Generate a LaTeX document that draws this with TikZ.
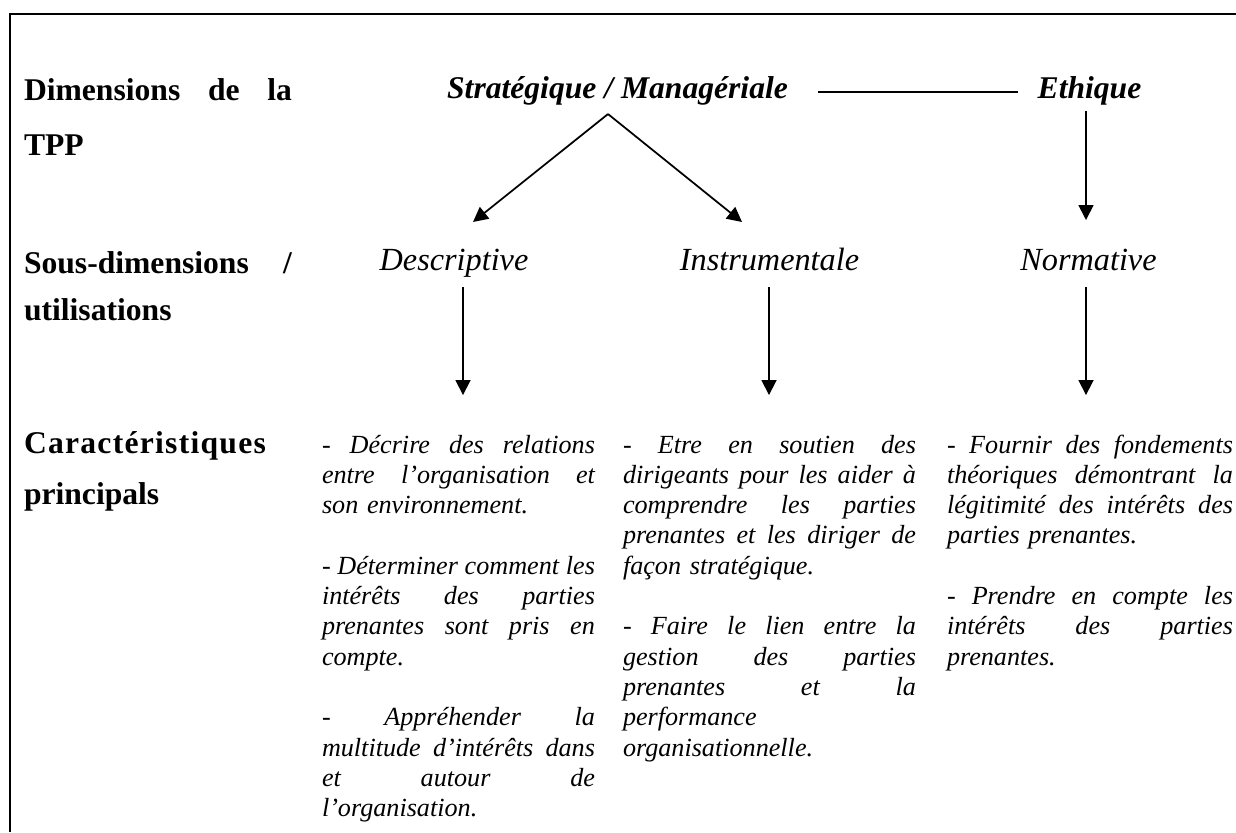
\documentclass[tikz,border=0pt]{standalone}
\usepackage{fontspec}
\setmainfont{Liberation Serif}
\usetikzlibrary{arrows.meta}
\newlength{\wA}\setlength{\wA}{125.2pt}
\newlength{\wB}\setlength{\wB}{134.4pt}
\newlength{\wC}\setlength{\wC}{131.2pt}
\newlength{\wL}\setlength{\wL}{122.9pt}
\newcommand{\jl}[2]{\makebox[#1][s]{\spaceskip=0pt\xspaceskip=0pt\relax #2}}
\begin{document}
\begin{tikzpicture}[x=0.4587pt,y=-0.4587pt,
  every node/.style={inner sep=0pt, outer sep=0pt},
  lab/.style={anchor=base west, font=\fontsize{14.5}{16}\selectfont\bfseries},
  head/.style={anchor=base, text height=10.5pt, text depth=3.5pt, font=\fontsize{14.5}{16}\selectfont\bfseries\itshape},
  sub/.style={anchor=base, text height=10.5pt, text depth=3pt, font=\fontsize{14.8}{16}\selectfont\itshape},
  col/.style={anchor=base west, align=left, font=\fontsize{12}{13.9}\selectfont\itshape},
  arr/.style={line width=0.8pt, -{Triangle[length=6.8pt,width=6.8pt]}},
  conn/.style={line width=0.8pt},
  frameline/.style={line width=0.9pt}]
\useasboundingbox (0,0) rectangle (1236,832);
% frame
\coordinate (ftl) at (10,14);
\coordinate (ftr) at (1236,14);
\coordinate (fbl) at (10,832);
\draw[frameline] (ftr) -- (ftl) -- (fbl);
% row labels
\node[lab] (l1a) at (24,100) {\jl{\wL}{Dimensions de la}};
\node[lab] (l1b) at (24,155) {TPP};
\node[lab] (l2a) at (24,273) {\jl{\wL}{Sous-dimensions /}};
\node[lab] (l2b) at (24,320) {utilisations};
\node[lab] (l3a) at (24,453) {\addfontfeatures{LetterSpace=4}Caractéristiques};
\node[lab] (l3b) at (24,504) {principals};
% dimensions
\node[head] (strat) at (617.5,98) {Stratégique / Managériale};
\node[head] (eth) at (1089.5,98) {Ethique};
\coordinate (ly) at (0,92);
\draw[conn, shorten <=13.8pt, shorten >=9.2pt] (strat.east |- ly) -- (eth.west |- ly);
% sub-dimensions
\node[sub] (desc) at (454,270) {Descriptive};
\node[sub] (instr) at (769.5,270) {Instrumentale};
\node[sub] (norm) at (1088.5,270) {Normative};
\draw[arr] ([shift={(-9.5,8.4)}]strat.south) -- ([shift={(19,-25.1)}]desc.north);
\draw[arr] ([shift={(-9.5,8.4)}]strat.south) -- ([shift={(-27.5,-25.1)}]instr.north);
\draw[arr] ([shift={(-3.5,5.4)}]eth.south) -- ([shift={(-2.5,-27.1)}]norm.north);
% characteristics
\node[col, text width=\wA] (c1) at (322,453) {%
\jl{\wA}{- Décrire des relations}\\
\jl{\wA}{entre l’organisation et}\\
son environnement.\\[13.9pt]
\jl{\wA}{- Déterminer comment les}\\
\jl{\wA}{intérêts des parties}\\
\jl{\wA}{prenantes sont pris en}\\
compte.\\[13.9pt]
\jl{\wA}{- Appréhender la}\\
\jl{\wA}{multitude d’intérêts dans}\\
\jl{\wA}{et autour de}\\
l’organisation.};
\node[col, text width=\wB] (c2) at (623,453) {%
\jl{\wB}{- Etre en soutien des}\\
\jl{\wB}{dirigeants pour les aider à}\\
\jl{\wB}{comprendre les parties}\\
\jl{\wB}{prenantes et les diriger de}\\
façon stratégique.\\[13.9pt]
\jl{\wB}{- Faire le lien entre la}\\
\jl{\wB}{gestion des parties}\\
\jl{\wB}{prenantes et la}\\
performance\\
organisationnelle.};
\node[col, text width=\wC] (c3) at (947,453) {%
\jl{\wC}{- Fournir des fondements}\\
\jl{\wC}{théoriques démontrant la}\\
\jl{\wC}{légitimité des intérêts des}\\
parties prenantes.\\[13.9pt]
\jl{\wC}{- Prendre en compte les}\\
\jl{\wC}{intérêts des parties}\\
prenantes.};
\draw[arr] ([shift={(9,10.5)}]desc.south) -- ([shift={(9,118.5)}]desc.south);
\draw[arr] ([shift={(-0.5,10.5)}]instr.south) -- ([shift={(-0.5,118.5)}]instr.south);
\draw[arr] ([shift={(-2.5,10.5)}]norm.south) -- ([shift={(-2.5,118.5)}]norm.south);
\end{tikzpicture}
\end{document}
